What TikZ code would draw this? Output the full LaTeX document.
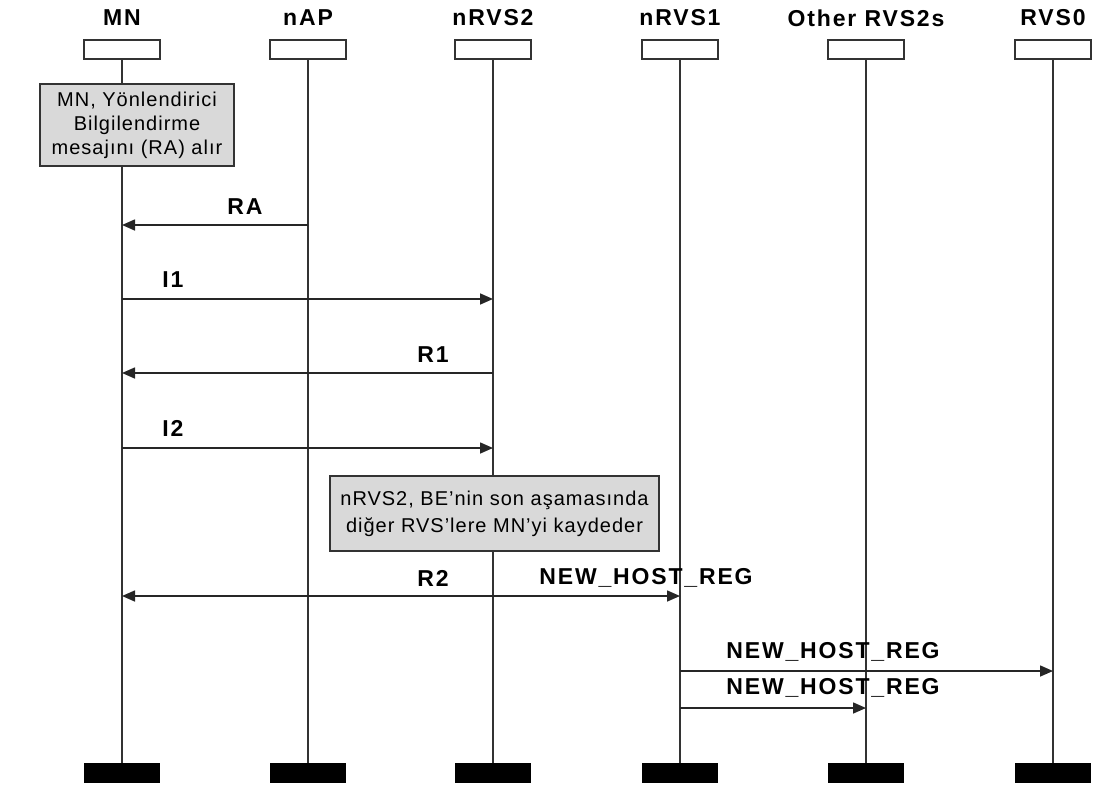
\documentclass[tikz,border=0pt]{standalone}
\usepackage{fontspec}
\setmainfont{Liberation Sans}
\newfontfamily\labelfont[LetterSpace=8]{Liberation Sans}
\newfontfamily\notefont[LetterSpace=5]{Liberation Sans}
\usetikzlibrary{arrows.meta}

\begin{document}
\begin{tikzpicture}[x=1pt,y=-1pt,
  lifeline/.style={draw=black!80, line width=1.6pt},
  headbox/.style={draw=black!80, line width=1.6pt, fill=white, minimum width=76pt, minimum height=19pt, inner sep=0pt},
  footbar/.style={fill=black, minimum width=76pt, minimum height=20pt, inner sep=0pt},
  title/.style={font=\labelfont\fontsize{23}{26}\selectfont\bfseries, inner sep=0pt},
  msglabel/.style={font=\labelfont\fontsize{23}{26}\selectfont\bfseries, inner sep=0pt},
  notebox/.style={draw=black!80, line width=1.6pt, fill=black!15, align=center, inner sep=0pt},
  msg/.style={draw=black!85, line width=1.6pt, -{Triangle[length=13pt,width=11pt]}},
  bimsg/.style={draw=black!85, line width=1.6pt, {Triangle[length=13pt,width=11pt]}-{Triangle[length=13pt,width=11pt]}},
]
\useasboundingbox (0,0) rectangle (1094,787);

% participants: header box, title, end bar and lifeline
\foreach \name/\xx/\ttl in {MN/122/MN, nAP/308/nAP, nRVSb/493/nRVS2, nRVSa/680/nRVS1, other/866/Other RVS2s, RVSz/1053/RVS0} {
  \node[headbox] (h\name) at (\xx,49.5) {};
  \node[title] (t\name) at (\xx,18) {\ttl};
  \node[footbar] (f\name) at (\xx,773) {};
  \draw[lifeline] (h\name.south) -- (f\name.north);
}

% notes
\node[notebox, minimum width=194pt, minimum height=82pt,
      font=\notefont\fontsize{20}{24}\selectfont] (noteA) at (137,125)
  {MN, Yönlendirici\\Bilgilendirme\\mesajını (RA) alır};
\node[notebox, minimum width=329pt, minimum height=75pt,
      font=\notefont\fontsize{20}{27}\selectfont] (noteB) at (494.5,513.5)
  {nRVS2, BE’nin son aşamasında\\diğer RVS’lere MN’yi kaydeder};

% message end points on the lifelines
\coordinate (raS) at (308,225);  \coordinate (raT) at (122,225);
\coordinate (iaS) at (122,299);  \coordinate (iaT) at (493,299);
\coordinate (rbS) at (493,373);  \coordinate (rbT) at (122,373);
\coordinate (ibS) at (122,448);  \coordinate (ibT) at (493,448);
\coordinate (rcS) at (122,596);  \coordinate (rcT) at (680,596);
\coordinate (nhS) at (680,671);  \coordinate (nhT) at (1053,671);
\coordinate (noS) at (680,708);  \coordinate (noT) at (866,708);

% messages
\draw[msg] (raS) -- (raT);
\draw[msg] (iaS) -- (iaT);
\draw[msg] (rbS) -- (rbT);
\draw[msg] (ibS) -- (ibT);
\draw[bimsg] (rcS) -- (rcT);
\draw[msg] (nhS) -- (nhT);
\draw[msg] (noS) -- (noT);

% message labels
\node[msglabel] (lRA) at (245,207) {RA};
\node[msglabel] (lI1) at (173,280) {I1};
\node[msglabel] (lR1) at (433,355) {R1};
\node[msglabel] (lI2) at (173,428) {I2};
\node[msglabel] (lR2) at (433,578) {R2};
\node[msglabel] (lNHa) at (646,578) {NEW\_HOST\_REG};
\node[msglabel] (lNHb) at (833,652) {NEW\_HOST\_REG};
\node[msglabel] (lNHc) at (833,688) {NEW\_HOST\_REG};
\end{tikzpicture}
\end{document}
